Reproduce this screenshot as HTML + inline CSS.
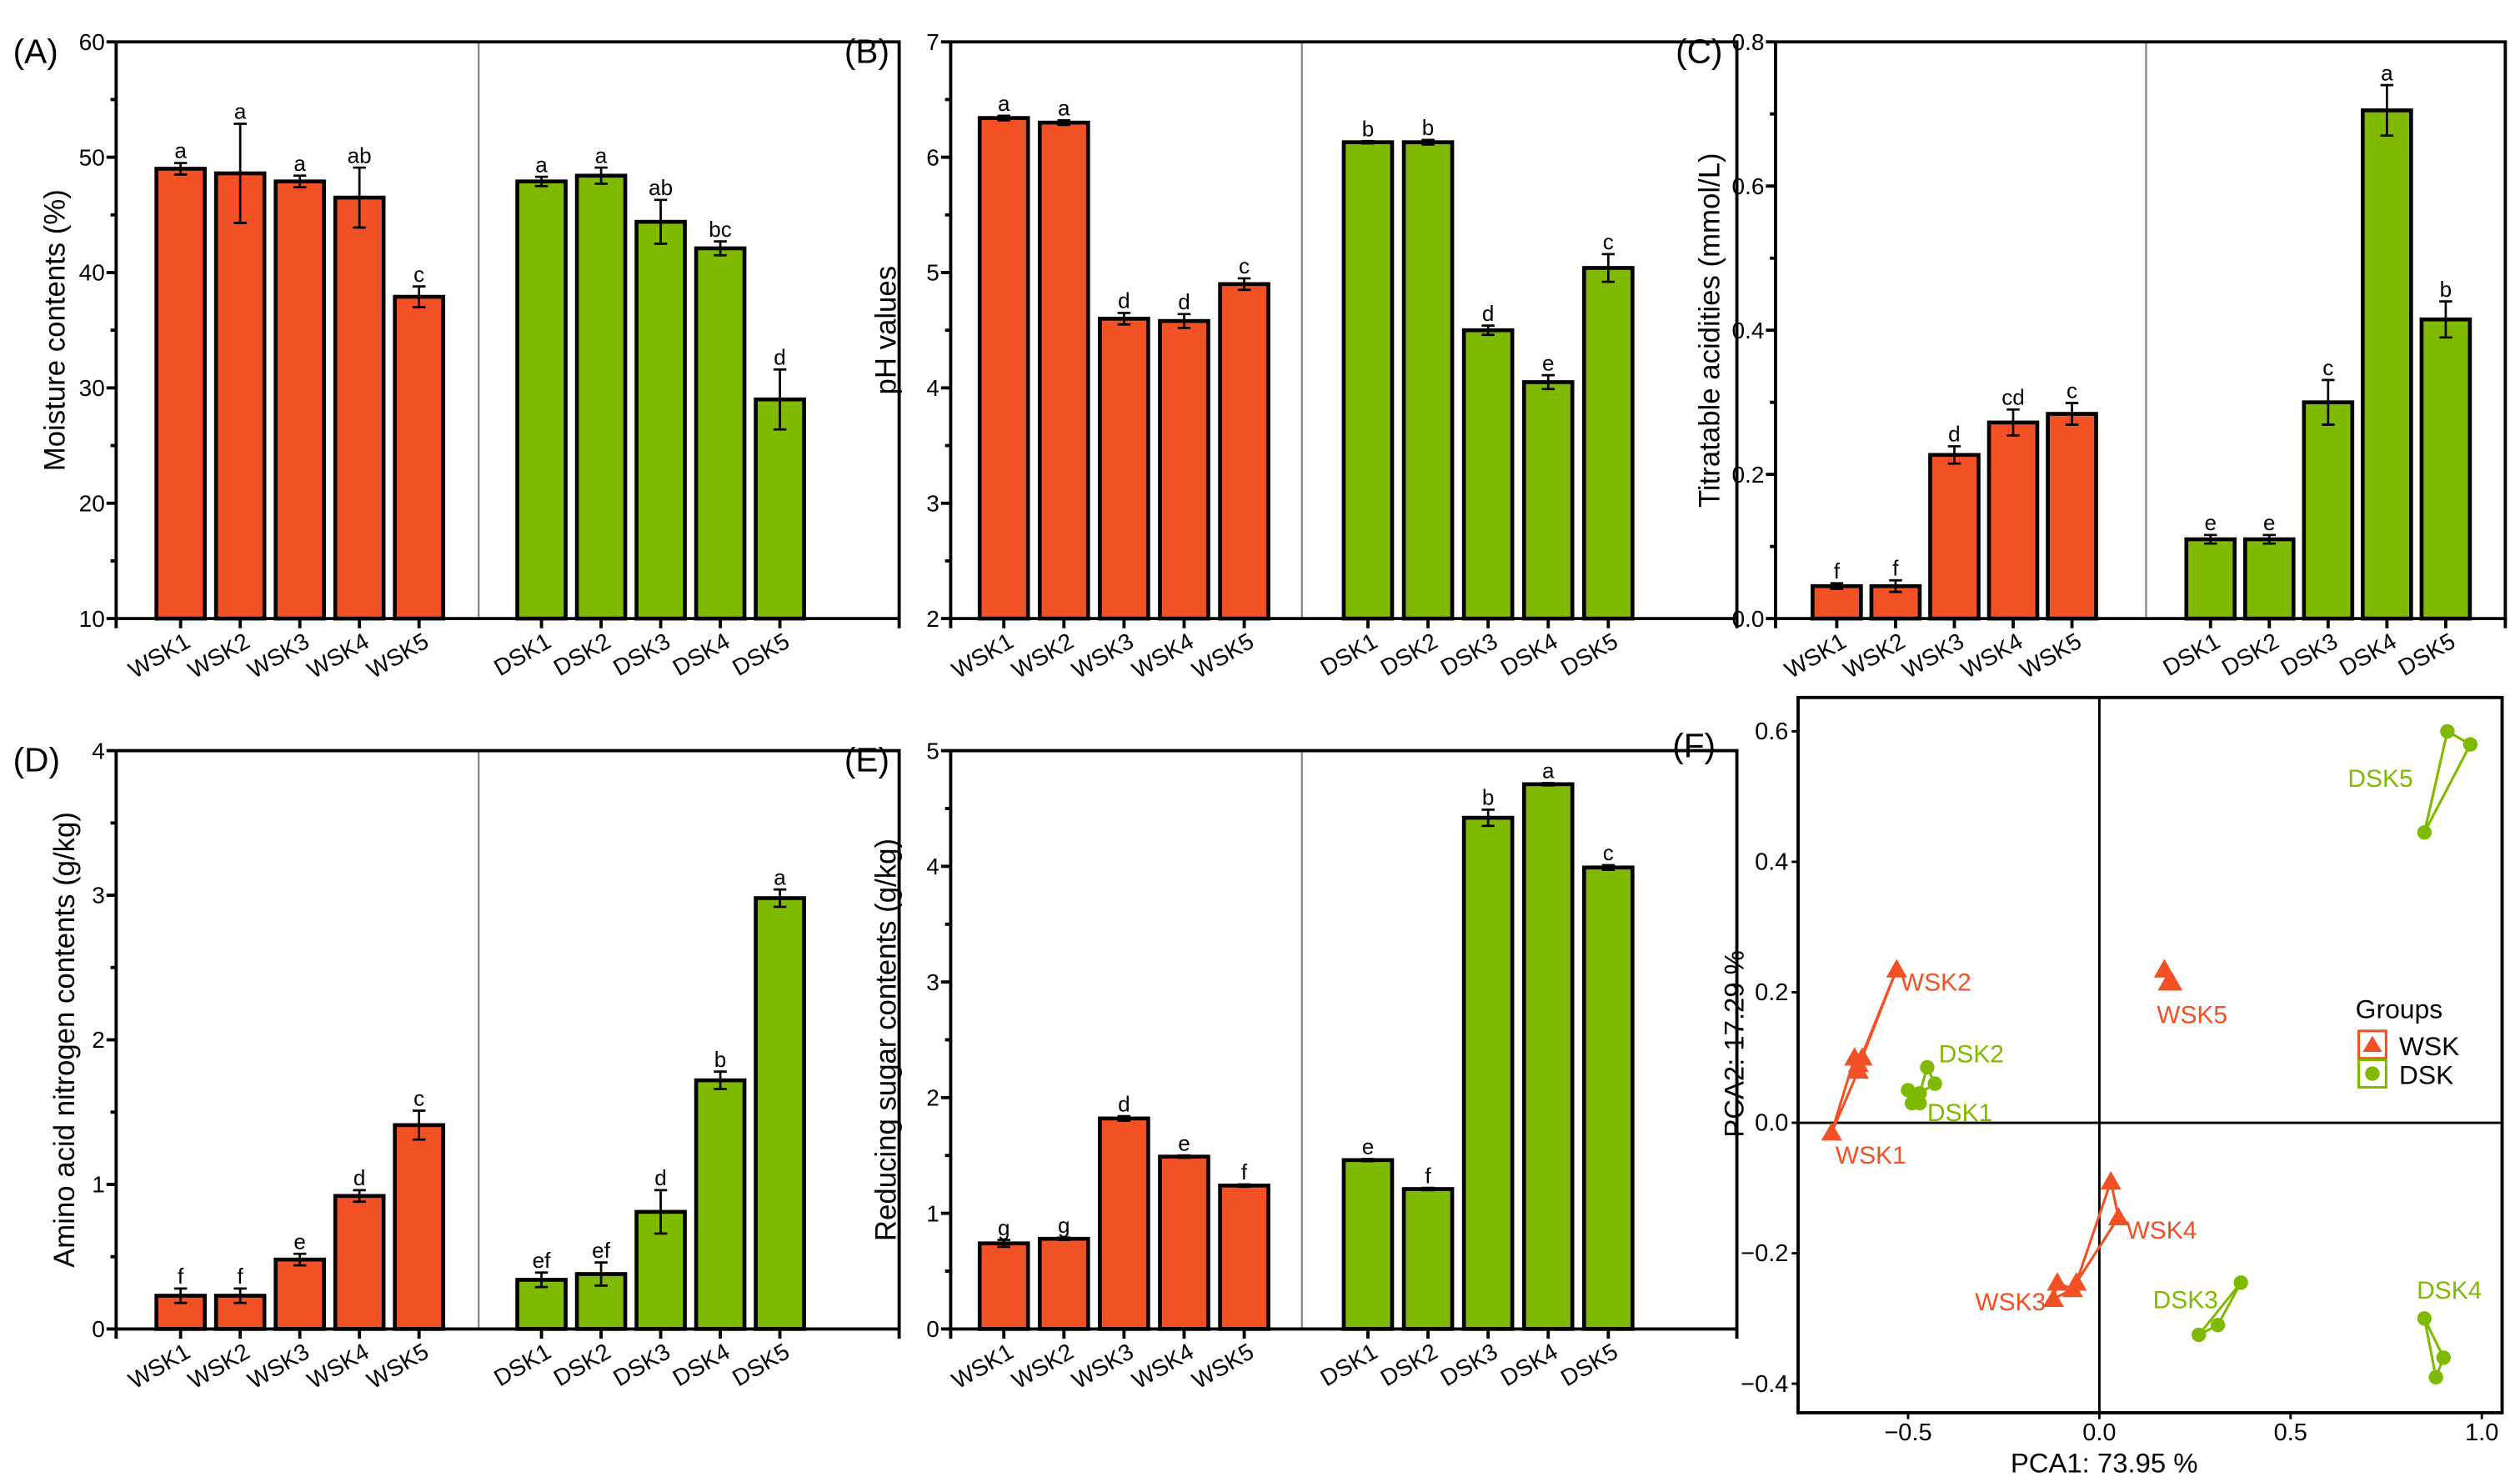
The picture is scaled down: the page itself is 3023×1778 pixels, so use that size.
<!DOCTYPE html>
<html><head><meta charset="utf-8"><style>
html,body{margin:0;padding:0;background:#fff}
svg{display:block;font-family:"Liberation Sans",Arial,sans-serif}
</style></head><body>
<svg id="fig" width="3023" height="1778" viewBox="0 0 1564 920" xmlns="http://www.w3.org/2000/svg"></svg>
<script>
// ---- data ----
const wskCats = ["WSK1","WSK2","WSK3","WSK4","WSK5"];
const dskCats = ["DSK1","DSK2","DSK3","DSK4","DSK5"];
const moistW = [49.0,48.6,47.9,46.5,37.9];
const moistWErr = [0.5,4.3,0.5,2.6,0.9];
const moistWLet = ["a","a","a","ab","c"];
const moistD = [47.9,48.4,44.4,42.1,29.0];
const moistDErr = [0.4,0.7,1.9,0.6,2.6];
const moistDLet = ["a","a","ab","bc","d"];
const phW = [6.34,6.30,4.60,4.58,4.90];
const phWErr = [0.02,0.02,0.05,0.06,0.05];
const phWLet = ["a","a","d","d","c"];
const phD = [6.13,6.13,4.50,4.05,5.04];
const phDErr = [0.01,0.02,0.04,0.06,0.12];
const phDLet = ["b","b","d","e","c"];
const taW = [0.045,0.045,0.227,0.272,0.284];
const taWErr = [0.004,0.008,0.012,0.018,0.015];
const taWLet = ["f","f","d","cd","c"];
const taD = [0.110,0.110,0.300,0.705,0.415];
const taDErr = [0.006,0.006,0.031,0.035,0.025];
const taDLet = ["e","e","c","a","b"];
const aanW = [0.23,0.23,0.48,0.92,1.41];
const aanWErr = [0.05,0.05,0.04,0.04,0.10];
const aanWLet = ["f","f","e","d","c"];
const aanD = [0.34,0.38,0.81,1.72,2.98];
const aanDErr = [0.05,0.08,0.15,0.06,0.06];
const aanDLet = ["ef","ef","d","b","a"];
const rsW = [0.74,0.78,1.82,1.49,1.24];
const rsWErr = [0.03,0.01,0.02,0.01,0.01];
const rsWLet = ["g","g","d","e","f"];
const rsD = [1.46,1.21,4.42,4.71,3.99];
const rsDErr = [0.01,0.01,0.07,0.01,0.02];
const rsDLet = ["e","f","b","a","c"];
const ticksA = [10,20,30,40,50,60];
const ticksB = [2,3,4,5,6,7];
const ticksC = [0.0,0.2,0.4,0.6,0.8];
const ticksD = [0,1,2,3,4];
const ticksE = [0,1,2,3,4,5];
// PCA
const pcaGroups = ["WSK1","WSK2","WSK3","WSK4","WSK5","DSK1","DSK2","DSK3","DSK4","DSK5"];
const pcaX = [[-0.70,-0.63,-0.64],[-0.53,-0.62,-0.63],[-0.12,-0.11,-0.07],[0.03,0.05,-0.06],[0.17,0.18,0.19],
              [-0.50,-0.49,-0.47],[-0.45,-0.43,-0.47],[0.26,0.31,0.37],[0.85,0.90,0.88],[0.91,0.97,0.85]];
const pcaY = [[-0.015,0.08,0.10],[0.235,0.10,0.09],[-0.27,-0.245,-0.255],[-0.09,-0.145,-0.245],[0.235,0.215,0.215],
              [0.05,0.03,0.03],[0.085,0.06,0.045],[-0.325,-0.31,-0.245],[-0.30,-0.36,-0.39],[0.60,0.58,0.445]];
const pcaLabX = [-0.69,-0.52,-0.14,0.07,0.15,-0.45,-0.42,0.14,0.83,0.82];
const pcaLabY = [-0.05,0.215,-0.275,-0.165,0.165,0.015,0.105,-0.272,-0.257,0.527];
const pcaLabAnchor = ["start","start","end","start","start","start","start","start","start","end"];
const pcaXTicks = [-0.5,0.0,0.5,1.0];
const pcaYTicks = [-0.4,-0.2,0.0,0.2,0.4,0.6];

const RED="#f25025", GREEN="#7fba00";
const svg=document.getElementById('fig');
const NS="http://www.w3.org/2000/svg";
function mk(tag,attrs,parent){const e=document.createElementNS(NS,tag);for(const k in attrs)e.setAttribute(k,attrs[k]);(parent||svg).appendChild(e);return e;}
function txt(s,attrs,parent){const e=mk('text',attrs,parent);e.textContent=s;return e;}

function barPanel(p){
  const g=mk('g',{});
  
  
  const y=v=>p.B-(v-p.ymin)/(p.ymax-p.ymin)*(p.B-p.T);
  const dv=mk('line',{x1:p.div,x2:p.div,y1:p.T,y2:p.B,stroke:'#888','stroke-width':1.2},g);
  
  
  function series(vals,errs,lets,cats,x0,color){
    vals.forEach((v,i)=>{
      const cx=x0+i*p.pitch, bw=p.bw;
      const r=mk('rect',{x:cx-bw/2,y:y(v),width:bw,height:p.B-y(v),fill:color,stroke:'#000','stroke-width':2.4},g);
      
      
      const t=y(v+errs[i]),b=y(v-errs[i]);
      const eb=mk('path',{d:`M${cx},${t}V${b}M${cx-4},${t}H${cx+4}M${cx-4},${b}H${cx+4}`,stroke:'#000','stroke-width':1.4,fill:'none'},g);
      
      
      const lt=txt(lets[i],{x:cx,y:t-3,'text-anchor':'middle','font-size':13.5},g);
      
      
      mk('line',{x1:cx,x2:cx,y1:p.B,y2:p.B+6,stroke:'#000','stroke-width':2},g);
      const xl=txt(cats[i],{x:cx+7,y:p.B+17,'text-anchor':'end','font-size':14.5,transform:`rotate(-30 ${cx+7} ${p.B+17})`},g);
      
      
    });
  }
  series(p.w,p.we,p.wl,wskCats,p.w1,RED);
  series(p.d,p.de,p.dl,dskCats,p.d1,GREEN);
  const ax=mk('path',{d:`M${p.L},${p.T}V${p.B}H${p.R}V${p.T}H${p.L}`,fill:'none',stroke:'#000','stroke-width':2},g);
  
  
  mk('path',{d:`M${p.L},${p.B}v6M${p.R},${p.B}v6`,stroke:'#000','stroke-width':2},g);
  p.ticks.forEach((v,i)=>{
    mk('line',{x1:p.L-6,x2:p.L,y1:y(v),y2:y(v),stroke:'#000','stroke-width':2},g);
    if(i<p.ticks.length-1){const m=(v+p.ticks[i+1])/2;mk('line',{x1:p.L-3.5,x2:p.L,y1:y(m),y2:y(m),stroke:'#000','stroke-width':2},g);}
    const tl=txt(p.fmt(v),{x:p.L-7,y:y(v)+5,'text-anchor':'end','font-size':14.5},g);
    
    
  });
  const cy=(p.T+p.B)/2;
  const yt=txt(p.ytitle,{x:p.ytx,y:cy,'text-anchor':'middle','font-size':18,transform:`rotate(-90 ${p.ytx} ${cy})`},g);
  
  
  const pl=txt(p.label,{x:p.lx,y:p.T+13,'font-size':21},g);
  
  
}
const f0=v=>String(v), f1=v=>v.toFixed(1);
barPanel({name:'panel-a-moisture',L:72,R:558,T:26,B:384,div:297,w1:112,d1:336,pitch:37,bw:30,ymin:10,ymax:60,ticks:ticksA,fmt:f0,
  w:moistW,we:moistWErr,wl:moistWLet,d:moistD,de:moistDErr,dl:moistDLet,ytitle:'Moisture contents (%)',ytx:40,label:'(A)',lx:8});
barPanel({name:'panel-b-ph',L:590,R:1078,T:26,B:384,div:808,w1:623,d1:849,pitch:37.3,bw:30,ymin:2,ymax:7,ticks:ticksB,fmt:f0,
  w:phW,we:phWErr,wl:phWLet,d:phD,de:phDErr,dl:phDLet,ytitle:'pH values',ytx:556,label:'(B)',lx:524});
barPanel({name:'panel-c-acidity',L:1102,R:1555,T:26,B:384,div:1332,w1:1140,d1:1372,pitch:36.5,bw:30,ymin:0,ymax:0.8,ticks:ticksC,fmt:f1,
  w:taW,we:taWErr,wl:taWLet,d:taD,de:taDErr,dl:taDLet,ytitle:'Titratable acidities (mmol/L)',ytx:1067,label:'(C)',lx:1040});
barPanel({name:'panel-d-amino-nitrogen',L:72,R:558,T:466,B:825,div:297,w1:112,d1:336,pitch:37,bw:30,ymin:0,ymax:4,ticks:ticksD,fmt:f0,
  w:aanW,we:aanWErr,wl:aanWLet,d:aanD,de:aanDErr,dl:aanDLet,ytitle:'Amino acid nitrogen contents (g/kg)',ytx:46,label:'(D)',lx:8});
barPanel({name:'panel-e-reducing-sugar',L:590,R:1078,T:466,B:825,div:808,w1:623,d1:849,pitch:37.3,bw:30,ymin:0,ymax:5,ticks:ticksE,fmt:f0,
  w:rsW,we:rsWErr,wl:rsWLet,d:rsD,de:rsDErr,dl:rsDLet,ytitle:'Reducing sugar contents (g/kg)',ytx:556,label:'(E)',lx:524});

// ---- PCA panel ----
(function(){
  const g=mk('g',{});
  
  
  const L=1116,R=1553,T=433,B=877;
  const xs=v=>1303+v*237.4, ys=v=>697-v*405;
  mk('rect',{x:L,y:T,width:R-L,height:B-T,fill:'none',stroke:'#000','stroke-width':2},g);
  mk('line',{x1:xs(0),x2:xs(0),y1:T,y2:B,stroke:'#000','stroke-width':1.5},g);
  mk('line',{x1:L,x2:R,y1:ys(0),y2:ys(0),stroke:'#000','stroke-width':1.5},g);
  pcaXTicks.forEach(v=>{
    mk('line',{x1:xs(v),x2:xs(v),y1:B,y2:B+4,stroke:'#000','stroke-width':1.5},g);
    const t=txt(v===0?'0.0':(v<0?'\u2212'+Math.abs(v).toFixed(1):v.toFixed(1)),{x:xs(v),y:B+17,'text-anchor':'middle','font-size':15},g);
    
    
  });
  pcaYTicks.forEach(v=>{
    mk('line',{x1:L-4,x2:L,y1:ys(v),y2:ys(v),stroke:'#000','stroke-width':1.5},g);
    const t=txt(v===0?'0.0':(v<0?'\u2212'+Math.abs(v).toFixed(1):v.toFixed(1)),{x:L-6,y:ys(v)+5,'text-anchor':'end','font-size':15},g);
    
    
  });
  const xt=txt('PCA1:  73.95 %',{x:1306,y:914,'text-anchor':'middle','font-size':17},g);
  
  
  const yt=txt('PCA2:  17.29 %',{x:1082,y:648,'text-anchor':'middle','font-size':17,transform:'rotate(-90 1082 648)'},g);
  
  
  const pl=txt('(F)',{x:1038,y:470,'font-size':21},g);
  
  
  pcaGroups.forEach((name,gi)=>{
    const col=name[0]==='W'?RED:GREEN;
    const pts=pcaX[gi].map((x,i)=>[xs(x),ys(pcaY[gi][i])]);
    const poly=mk('polygon',{points:pts.map(p=>p.join(',')).join(' '),fill:'none',stroke:col,'stroke-width':1.6},g);
    
    
    pts.forEach(p=>{
      let m;
      if(name[0]==='W') m=mk('polygon',{points:`${p[0]},${p[1]-6.5} ${p[0]-6.5},${p[1]+5} ${p[0]+6.5},${p[1]+5}`,fill:col},g);
      else m=mk('circle',{cx:p[0],cy:p[1],r:4.5,fill:col},g);
      
      
    });
    const lt=txt(name,{x:xs(pcaLabX[gi]),y:ys(pcaLabY[gi])+5,'text-anchor':pcaLabAnchor[gi],'font-size':15.5,fill:col},g);
    
    
  });
  const lg=mk('g',{},g);
  
  
  txt('Groups',{x:1462,y:632,'font-size':16.5},lg);
  const e1=mk('g',{},lg);
  
  
  mk('rect',{x:1464,y:640,width:17,height:17,fill:'none',stroke:RED,'stroke-width':1.6},e1);
  mk('polygon',{points:'1472.5,643 1466.5,653 1478.5,653',fill:RED},e1);
  txt('WSK',{x:1489,y:655,'font-size':16.5},e1);
  const e2=mk('g',{},lg);
  
  
  mk('rect',{x:1464,y:658,width:17,height:17,fill:'none',stroke:GREEN,'stroke-width':1.6},e2);
  mk('circle',{cx:1472.5,cy:666.5,r:4.5,fill:GREEN},e2);
  txt('DSK',{x:1489,y:673,'font-size':16.5},e2);
})();
</script>
</body></html>
